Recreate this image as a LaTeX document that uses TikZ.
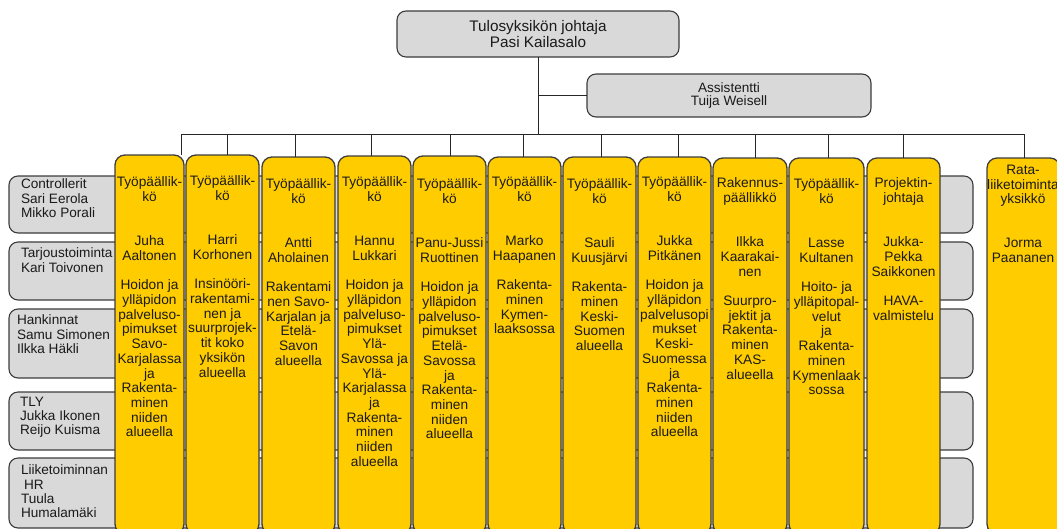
\documentclass[tikz,border=0pt]{standalone}
\usepackage{fontspec}
\setmainfont{Liberation Sans}
\definecolor{boxgrey}{HTML}{D9D9D9}
\definecolor{colyellow}{HTML}{FFCC00}
\definecolor{boxline}{HTML}{3C3C3C}
\definecolor{txt}{HTML}{1A1A1A}
\begin{document}
\begin{tikzpicture}[x=1pt,y=-1pt,
  every node/.style={inner sep=0pt, outer sep=0pt},
  greybox/.style={rectangle, draw=boxline, fill=boxgrey, line width=1.1pt, rounded corners=9pt, anchor=north west},
  yellowcol/.style={rectangle, draw=boxline, fill=colyellow, line width=1.3pt, rounded corners=10pt, anchor=north west},
  headbox/.style={greybox, text=txt, align=center},
  % text blocks are placed by the baseline of their first line
  firstbase/.style={yshift=11pt, execute at begin node={\rule{0pt}{11pt}}},
  coltext/.style={font=\fontsize{13.7}{14.7}\selectfont, align=center, anchor=north, text=txt, firstbase},
  rowtext/.style={font=\fontsize{13.6}{14.2}\selectfont, align=left, anchor=north west, text=txt, firstbase},
  link/.style={draw=black!85, line width=0.9pt}
]
\path[use as bounding box] (0,0) rectangle (1057,528);
\clip (0,0) rectangle (1057,528);

% management boxes
\node[headbox, minimum width=282pt, minimum height=46pt,
      font=\fontsize{15.3}{16}\selectfont] (top) at (397,11)
      {Tulosyksikön johtaja\\Pasi Kailasalo};
\node[headbox, minimum width=284pt, minimum height=43pt,
      font=\fontsize{13.6}{13.4}\selectfont] (asst) at (587,74)
      {Assistentti\\Tuija Weisell};

% staff rows behind the columns
\node[greybox, minimum width=964pt, minimum height=57pt] (r1) at (9,176) {};
\node[greybox, minimum width=964pt, minimum height=58pt] (r2) at (9,242) {};
\node[greybox, minimum width=964pt, minimum height=69pt] (r3) at (9,309) {};
\node[greybox, minimum width=964pt, minimum height=58pt] (r4) at (9,392) {};
\node[greybox, minimum width=964pt, minimum height=70pt] (r5) at (9,458) {};

\node[rowtext] (r1t) at (21,190) {Controllerit\\Sari Eerola\\Mikko Porali};
\node[rowtext] (r2t) at (21,259) {Tarjoustoiminta\\Kari Toivonen};
\node[rowtext] (r3t) at (17,326) {Hankinnat\\Samu Simonen\\Ilkka Häkli};
\node[rowtext] (r4t) at (20,408) {TLY\\Jukka Ikonen\\Reijo Kuisma};
\node[rowtext] (r5t) at (21,476) {Liiketoiminnan\\\hspace{3pt}HR\\Tuula\\Humalamäki};

% unit columns
\node[yellowcol, minimum width=69pt, minimum height=379pt] (c1)  at (115,155) {};
\node[yellowcol, minimum width=73pt, minimum height=379pt] (c2)  at (186,155) {};
\node[yellowcol, minimum width=73pt, minimum height=377pt] (c3)  at (262,157) {};
\node[yellowcol, minimum width=73pt, minimum height=378pt] (c4)  at (338,156) {};
\node[yellowcol, minimum width=73pt, minimum height=378pt] (c5)  at (413,156) {};
\node[yellowcol, minimum width=73pt, minimum height=377pt] (c6)  at (488,157) {};
\node[yellowcol, minimum width=73pt, minimum height=377pt] (c7)  at (563,157) {};
\node[yellowcol, minimum width=73pt, minimum height=377pt] (c8)  at (638,157) {};
\node[yellowcol, minimum width=74pt, minimum height=376pt] (c9)  at (713,158) {};
\node[yellowcol, minimum width=75pt, minimum height=376pt] (c10) at (789,158) {};
\node[yellowcol, minimum width=73pt, minimum height=376pt] (c11) at (867,158) {};
\node[yellowcol, minimum width=73pt, minimum height=376pt] (c12) at (987,158) {};

\node[coltext] (c1t) at (149.5,188) {Työpäällik-\\kö\\~\\~\\Juha\\Aaltonen\\~\\Hoidon ja\\ylläpidon\\palveluso-\\pimukset\\Savo-\\Karjalassa\\ja\\Rakenta-\\minen\\niiden\\alueella};
\node[coltext] (c2t) at (222.5,187) {Työpäällik-\\kö\\~\\~\\Harri\\Korhonen\\~\\Insinööri-\\rakentami-\\nen ja\\suurprojek-\\tit koko\\yksikön\\alueella};
\node[coltext] (c3t) at (298.5,190) {Työpäällik-\\kö\\~\\~\\Antti\\Aholainen\\~\\Rakentami\\nen Savo-\\Karjalan ja\\Etelä-\\Savon\\alueella};
\node[coltext] (c4t) at (374.5,188) {Työpäällik-\\kö\\~\\~\\Hannu\\Lukkari\\~\\Hoidon ja\\ylläpidon\\palveluso-\\pimukset\\Ylä-\\Savossa ja\\Ylä-\\Karjalassa\\ja\\Rakenta-\\minen\\niiden\\alueella};
\node[coltext] (c5t) at (449.5,190) {Työpäällik-\\kö\\~\\~\\Panu-Jussi\\Ruottinen\\~\\Hoidon ja\\ylläpidon\\palveluso-\\pimukset\\Etelä-\\Savossa\\ja\\Rakenta-\\minen\\niiden\\alueella};
\node[coltext] (c6t) at (524.5,188) {Työpäällik-\\kö\\~\\~\\Marko\\Haapanen\\~\\Rakenta-\\minen\\Kymen-\\laaksossa};
\node[coltext] (c7t) at (599.5,190) {Työpäällik-\\kö\\~\\~\\Sauli\\Kuusjärvi\\~\\Rakenta-\\minen\\Keski-\\Suomen\\alueella};
\node[coltext] (c8t) at (674.5,188) {Työpäällik-\\kö\\~\\~\\Jukka\\Pitkänen\\~\\Hoidon ja\\ylläpidon\\palvelusopi\\mukset\\Keski-\\Suomessa\\ja\\Rakenta-\\minen\\niiden\\alueella};
\node[coltext] (c9t) at (750,189) {Rakennus-\\päällikkö\\~\\~\\Ilkka\\Kaarakai-\\nen\\~\\Suurpro-\\jektit ja\\Rakenta-\\minen\\KAS-\\alueella};
\node[coltext] (c10t) at (826.5,190) {Työpäällik-\\kö\\~\\~\\Lasse\\Kultanen\\~\\Hoito- ja\\ylläpitopal-\\velut\\ja\\Rakenta-\\minen\\Kymenlaak\\sossa};
\node[coltext] (c11t) at (903.5,189) {Projektin-\\johtaja\\~\\~\\Jukka-\\Pekka\\Saikkonen\\~\\HAVA-\\valmistelu};
\node[coltext] (c12t) at (1023,176) {Rata-\\liiketoiminta\\yksikkö\\~\\~\\Jorma\\Paananen};

% reporting lines
\coordinate (b1)  at (181,134);
\coordinate (b2)  at (227,134);
\coordinate (b3)  at (295,134);
\coordinate (b4)  at (371,134);
\coordinate (b5)  at (450,134);
\coordinate (b6)  at (523,134);
\coordinate (b7)  at (601,134);
\coordinate (b8)  at (678,134);
\coordinate (b9)  at (755,134);
\coordinate (b10) at (828,134);
\coordinate (b11) at (903,134);
\coordinate (b12) at (1024,134);

\draw[link] (top.south) -- (top.south |- b1);
\draw[link] (top.south |- asst.west) -- (asst.west);
\draw[link] (b1) -- (b12);
\foreach \i in {1,...,12} {
  \draw[link] (b\i) -- (b\i |- c\i.north);
}
\end{tikzpicture}
\end{document}
